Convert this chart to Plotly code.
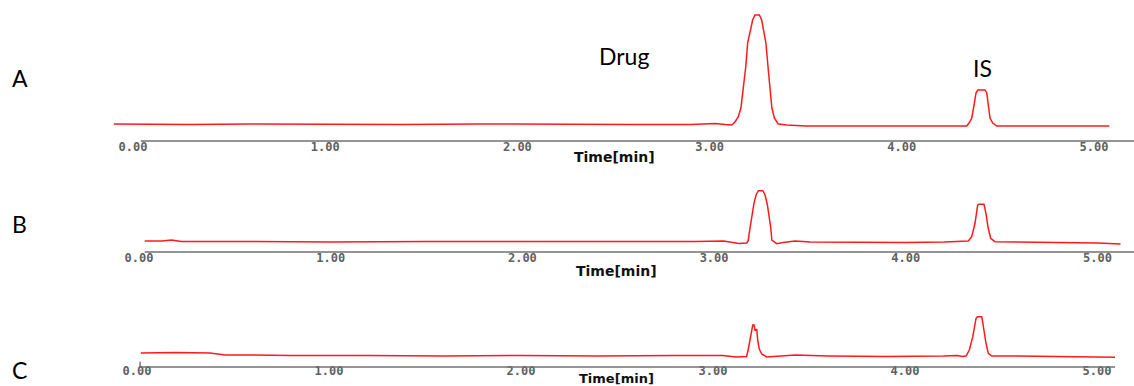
import plotly.graph_objects as go

# ---------------- data ----------------
# Panel A chromatogram: retention time (min) and detector signal (a.u., baseline = 0)
time_A = [-0.10, 0.30, 0.60, 1.00, 1.40, 1.80, 2.20, 2.60, 2.90, 3.00, 3.03, 3.08,
          3.115, 3.132, 3.149, 3.163, 3.175, 3.188, 3.198, 3.210, 3.224, 3.236,
          3.259, 3.271, 3.283, 3.293, 3.304, 3.314, 3.324, 3.337, 3.357, 3.40,
          3.50, 3.80, 4.10, 4.30, 4.338, 4.350, 4.364, 4.376, 4.386, 4.396,
          4.433, 4.442, 4.450, 4.459, 4.473, 4.494, 4.60, 4.80, 5.08]
signal_A = [1.0, 0.5, 1.0, 0.5, 0.5, 1.0, 0.5, 0.5, 0.5, 1.0, 1.5, 0.5,
            0.0, 3.0, 8.0, 17.0, 35.0, 58.0, 82.0, 93.0, 105.0, 110.0,
            110.0, 105.0, 93.0, 82.0, 58.0, 35.0, 17.0, 7.0, 1.0, 0.0,
            -1.0, -1.0, -1.0, -1.0, -1.0, 2.0, 7.0, 20.0, 32.0, 35.0,
            35.0, 32.0, 20.0, 7.0, 2.0, -1.0, -1.0, -1.0, -1.0]

# Panel B chromatogram
time_B = [0.03, 0.12, 0.17, 0.22, 0.50, 1.00, 1.50, 2.00, 2.50, 2.90, 3.05, 3.13,
          3.170, 3.178, 3.187, 3.196, 3.208, 3.219, 3.231, 3.254, 3.266, 3.278,
          3.289, 3.296, 3.301, 3.327, 3.36, 3.422, 3.50, 3.70, 4.00, 4.20, 4.28,
          4.326, 4.344, 4.361, 4.375, 4.382, 4.408, 4.418, 4.430, 4.443, 4.465,
          4.60, 4.80, 5.00, 5.12]
signal_B = [1.0, 1.0, 2.0, 0.5, 0.5, 0.0, 0.5, 0.5, 0.0, 0.5, 1.0, -1.5,
            -1.0, 1.3, 13.7, 25.0, 38.7, 47.0, 51.3, 51.3, 47.0, 37.0,
            25.0, 13.7, 2.0, -1.7, -0.5, 1.0, 0.0, -0.5, -0.5, 0.0, 0.5,
            1.0, 5.3, 18.7, 37.0, 37.7, 37.7, 28.7, 13.7, 3.7, 0.3,
            0.0, -0.5, -1.0, -2.0]

# Panel C chromatogram
time_C = [0.02, 0.20, 0.38, 0.46, 0.60, 0.80, 1.20, 1.60, 2.00, 2.40, 2.80, 3.05, 3.12,
          3.175, 3.184, 3.193, 3.201, 3.207, 3.214, 3.219, 3.228, 3.233, 3.241,
          3.254, 3.280, 3.35, 3.43, 3.60, 3.90, 4.20, 4.27, 4.30,
          4.318, 4.335, 4.353, 4.370, 4.377, 4.400, 4.408, 4.422, 4.434, 4.451,
          4.55, 4.80, 5.094]
signal_C = [3.0, 3.5, 3.0, 1.0, 1.0, 0.5, 0.5, 0.0, 0.5, 0.0, 0.5, 0.5, -1.0,
            -0.5, 7.0, 17.0, 27.0, 31.0, 31.0, 25.3, 27.0, 15.3, 7.0,
            2.0, -1.0, 0.0, 1.0, 0.0, -0.5, 0.0, 0.5, -0.5,
            0.0, 6.0, 19.3, 37.7, 39.3, 39.3, 29.3, 12.7, 2.7, 0.0,
            0.0, -0.5, -1.3]

tick_values = [0, 1, 2, 3, 4, 5]
tick_labels = ["0.00", "1.00", "2.00", "3.00", "4.00", "5.00"]
panel_letters = ["A", "B", "C"]
axis_title = "Time[min]"
peak_names = ["Drug", "IS"]

# ---------------- figure ----------------
W, H = 1134, 386
RED = "#ff1a1a"

def py(pix):
    return 1 - pix / H

fig = go.Figure()
for t, s, xa, ya in [(time_A, signal_A, "x", "y"),
                     (time_B, signal_B, "x2", "y2"),
                     (time_C, signal_C, "x3", "y3")]:
    fig.add_trace(go.Scatter(x=t, y=s, mode="lines", xaxis=xa, yaxis=ya,
                             line=dict(color=RED, width=1.5), hoverinfo="skip",
                             showlegend=False))

xcommon = dict(showgrid=False, zeroline=False, showline=False, ticks="",
               tickvals=tick_values, ticktext=tick_labels,
               tickfont=dict(family="DejaVu Sans Mono", size=12, color="#606060", weight="bold"),
               domain=[0, 1], fixedrange=True)
ycommon = dict(visible=False, fixedrange=True)

# pixel positions of zero minute and scale (px / min) for each panel
panels = [
    # x0 pix, px per min, axis line pix, top pix, baseline pix, tick-label anchor pix
    (133, 192.2, 141, 0, 125, 138),
    (139, 191.7, 252, 165, 242, 249),
    (137, 192.0, 367, 280, 356, 362),
]
names = [("xaxis", "yaxis", "y"), ("xaxis2", "yaxis2", "y2"), ("xaxis3", "yaxis3", "y3")]
for (x0, k, axpix, toppix, basepix, labpix), (xn, yn, yref) in zip(panels, names):
    xr = [-x0 / k, (W - x0) / k]
    fig.layout[xn] = dict(xcommon, range=xr, anchor="free", overlaying=None,
                          position=py(labpix), side="bottom")
    below = axpix - basepix
    above = basepix - toppix
    fig.layout[yn] = dict(ycommon, domain=[py(axpix), py(toppix)], range=[-below, above])

# axis lines (gray) for each chromatogram
axis_spans = [("x", "y", 0.04, 5.5), ("x2", "y2", 0.03, 5.5), ("x3", "y3", 0.016, 5.094)]
shapes = []
for xa, ya, a, b in axis_spans:
    shapes.append(dict(type="line", xref=xa, yref=ya + " domain", x0=a, x1=b, y0=0, y1=0,
                       line=dict(color="#707070", width=1.6)))
shapes.append(dict(type="line", xref="x3", yref="y3 domain", x0=0.016, x1=0.016, y0=0, y1=0.06,
                   line=dict(color="#555555", width=1.2)))
fig.update_layout(shapes=shapes)

ann = []
# Time[min] labels
for xp, yp, fs in [(614, 157, 14), (616, 271, 14), (616, 378, 13)]:
    ann.append(dict(text=f"<b>{axis_title}</b>", x=xp / W, y=py(yp), xref="paper", yref="paper",
                    showarrow=False, xanchor="center", yanchor="middle",
                    font=dict(family="DejaVu Sans", size=fs, color="#111111")))
# Panel letters
for letter, (xp, yp) in zip(panel_letters, [(20, 78), (19, 224), (19, 370)]):
    ann.append(dict(text=letter, x=xp / W, y=py(yp), xref="paper", yref="paper",
                    showarrow=False, xanchor="center", yanchor="middle",
                    font=dict(family="Lato", size=23, color="#000000")))
# Peak names
ann.append(dict(text=peak_names[0], x=624 / W, y=py(56), xref="paper", yref="paper",
                showarrow=False, xanchor="center", yanchor="middle",
                font=dict(family="Lato", size=23, color="#000000")))
ann.append(dict(text=peak_names[1], x=982 / W, y=py(68), xref="paper", yref="paper",
                showarrow=False, xanchor="center", yanchor="middle",
                font=dict(family="Lato", size=23, color="#000000")))
fig.update_layout(annotations=ann)

fig.update_layout(width=W, height=H, margin=dict(l=0, r=0, t=0, b=0),
                  paper_bgcolor="white", plot_bgcolor="rgba(0,0,0,0)", showlegend=False)

fig.write_html("out.html", config={"displayModeBar": False},
               post_script="document.body.style.margin='0';document.body.style.overflow='hidden';")
